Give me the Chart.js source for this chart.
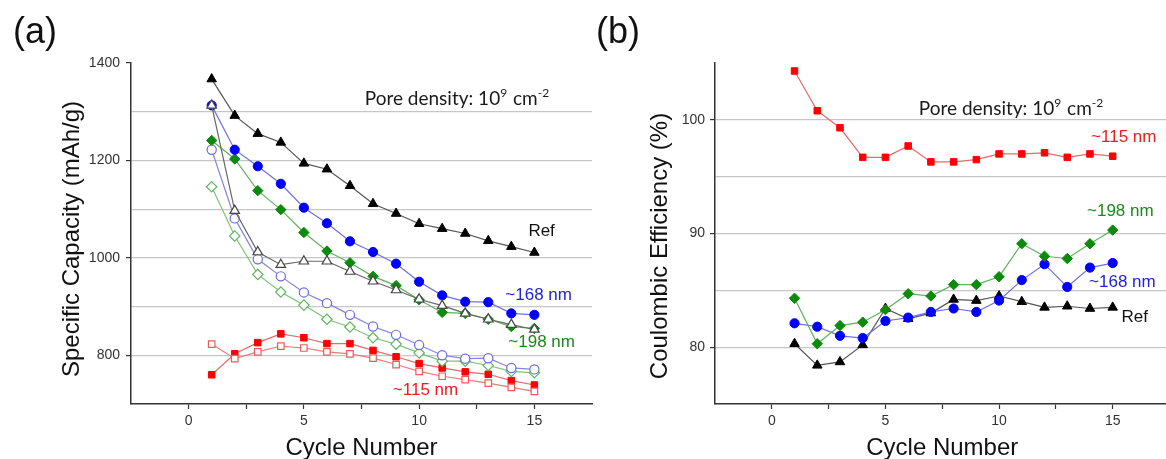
<!DOCTYPE html>
<html><head><meta charset="utf-8">
<script src="https://cdn.jsdelivr.net/npm/chart.js@4.4.1/dist/chart.umd.min.js"></script>
<style>
html,body{margin:0;padding:0;overflow:hidden;background:#fff;width:1166px;height:459px;}
#c1{position:absolute;left:0;top:0;}
#c2{position:absolute;left:590px;top:0;}
</style></head><body>
<canvas id="c1" width="600" height="459"></canvas>
<canvas id="c2" width="586" height="459"></canvas>
<script>
// ---------- data ----------
const cycles = [1,2,3,4,5,6,7,8,9,10,11,12,13,14,15];

// (a) specific capacity (mAh/g)
const capRef      = [1367,1292,1255,1237,1194,1182,1148,1111,1091,1070,1060,1050,1035,1023,1011];
const capRefOpen  = [1313,1097,1012,986,993,993,972,952,934,915,902,886,874,863,853];
const cap168      = [1313,1222,1188,1152,1103,1071,1034,1012,988,951,923,910,909,886,883];
const cap168Open  = [1222,1081,997,962,929,907,883,859,842,821,800,793,794,774,771];
const cap198      = [1241,1203,1138,1099,1052,1014,990,962,943,914,888,886,874,859,855];
const cap198Open  = [1146,1045,966,930,903,874,858,836,823,805,788,788,779,767,764];
const cap115      = [760,803,826,844,836,824,824,810,797,783,774,766,761,748,739];
const cap115Open  = [823,793,807,819,815,807,803,794,781,767,757,750,743,734,726];

// (b) coulombic efficiency (%)
const ce115 = [104.3,100.8,99.3,96.7,96.7,97.7,96.3,96.3,96.5,97.0,97.0,97.1,96.7,97.0,96.8];
const ce198 = [84.3,80.3,81.9,82.2,83.3,84.7,84.5,85.5,85.5,86.2,89.1,88.0,87.8,89.1,90.3];
const ce168 = [82.1,81.8,81.0,80.8,82.3,82.6,83.1,83.4,83.1,84.1,85.9,87.3,85.3,87.0,87.4];
const ceRef = [80.3,78.4,78.7,80.2,83.4,82.5,83.0,84.2,84.1,84.5,84.0,83.5,83.6,83.4,83.5];

// ticks
const xTickVals   = [0,2.5,5,7.5,10,12.5,15];
const xTickLabels = [0,5,10,15];
const capTickVals   = [700,800,900,1000,1100,1200,1300,1400];
const capTickLabels = [800,1000,1200,1400];
const ceTickVals   = [75,80,85,90,95,100,105];
const ceTickLabels = [80,90,100];

// labels
const capNotes = [
  {text:'Ref',     x:14.74, y:1054, color:'#111111'},
  {text:'~168 nm', x:13.74, y:924,  color:'#2323d8'},
  {text:'~198 nm', x:13.87, y:826,  color:'#1a8a1a'},
  {text:'~115 nm', x:8.86,  y:729,  color:'#ee1c1c'}
];
const ceNotes = [
  {text:'~115 nm', x:14.05, y:98.49, color:'#ee1c1c'},
  {text:'~198 nm', x:13.87, y:91.94, color:'#1a8a1a'},
  {text:'~168 nm', x:13.96, y:85.70, color:'#2323d8'},
  {text:'Ref',     x:15.39, y:82.59, color:'#111111'}
];

// ---------- helpers ----------
const pts = vals => vals.map((v,i)=>({x:cycles[i], y:v}));
function ds(vals, style, fill, stroke, line, open){
  return {
    data: pts(vals), pointStyle: style,
    pointRadius: style==='triangle'?5.5:(style==='rectRot'?5.2:4.6),
    pointBackgroundColor: open ? '#ffffff' : fill,
    pointBorderColor: stroke, pointBorderWidth: open?1.2:1,
    borderColor: line, borderWidth: 1.2, fill:false, tension:0
  };
}
const TICKFONT = {family:'"Liberation Sans", Arial, sans-serif', size:14};
const notesPlugin = {
  id:'notes',
  afterDraw(chart, args, o){
    const ctx = chart.ctx, xs = chart.scales.x, ys = chart.scales.y, ca = chart.chartArea;
    ctx.save();
    ctx.textAlign='left'; ctx.textBaseline='middle';
    ctx.font = '17px "Liberation Sans", Arial, sans-serif';
    for (const n of o.items){
      ctx.fillStyle = n.color;
      ctx.fillText(n.text, xs.getPixelForValue(n.x), ys.getPixelForValue(n.y));
    }
    // pore density with superscripts
    let px = xs.getPixelForValue(o.pore.x), py = ys.getPixelForValue(o.pore.y);
    ctx.textBaseline='alphabetic'; ctx.fillStyle='#1a1a1a';
    const big = '19px Lato, "Open Sans", sans-serif', small = '12px Lato, "Open Sans", sans-serif';
    const parts = [['Pore density: 10',big,0],['9',small,-8],[' cm',big,0],['-2',small,-8]];
    for (const [t,f,dy] of parts){ ctx.font=f; ctx.fillText(t, px, py+dy); px += ctx.measureText(t).width + (dy?1:0); }
    // axis titles
    ctx.fillStyle='#111'; ctx.font='24px "Liberation Sans", Arial, sans-serif';
    ctx.textAlign='center'; ctx.textBaseline='alphabetic';
    ctx.fillText(o.xTitle, (ca.left+ca.right)/2, 455);
    ctx.save(); ctx.translate(o.yTitleX, o.yTitleY); ctx.rotate(-Math.PI/2);
    ctx.textBaseline='middle'; ctx.fillText(o.yTitle, 0, 0); ctx.restore();
    // panel label
    ctx.textAlign='left'; ctx.font='36px "Liberation Sans", Arial, sans-serif';
    ctx.fillText(o.panel, o.panelX, 43);
    ctx.restore();
  }
};
function scalesFor(yMin, yMax, yVals, yLabels, yWidth, yPad){
  return {
    x:{type:'linear', min:-2.5, max:17.5,
      afterBuildTicks: s => { s.ticks = xTickVals.map(v=>({value:v})); },
      afterFit: s => { s.height = 55; },
      grid:{drawOnChartArea:false, drawTicks:true, tickLength:5, tickColor:'#333', tickWidth:1.2},
      border:{display:true, color:'#333', width:1.5},
      ticks:{callback:v => xTickLabels.includes(v) ? String(v) : '', font:TICKFONT, color:'#333', padding:4, maxRotation:0, autoSkip:false}
    },
    y:{type:'linear', min:yMin, max:yMax,
      afterBuildTicks: s => { s.ticks = yVals.map(v=>({value:v})); },
      afterFit: s => { s.width = yWidth; },
      grid:{
        color: c => (c.tick && c.tick.value>yMin && c.tick.value<yMax) ? '#c6c6c6' : 'rgba(0,0,0,0)',
        tickColor: c => (c.tick && yLabels.includes(c.tick.value)) ? '#333' : 'rgba(0,0,0,0)',
        lineWidth:1.2, tickLength:5, tickWidth:1.2, drawTicks:true
      },
      border:{display:true, color:'#333', width:1.5},
      ticks:{callback:v => yLabels.includes(v) ? String(v) : '', font:TICKFONT, color:'#333', padding:yPad, autoSkip:false}
    }
  };
}

// ---------- chart (a) ----------
new Chart(document.getElementById('c1'), {
  type:'line',
  data:{datasets:[
    ds(capRefOpen,'triangle','#fff','#444','#666',true),
    ds(cap168Open,'circle','#fff','#6b6be0','#8484e4',true),
    ds(cap198Open,'rectRot','#fff','#5fb85f','#7cc47c',true),
    ds(cap115Open,'rect','#fff','#ef5a5a','#ef7a7a',true),
    ds(capRef,'triangle','#000','#000','#555',false),
    ds(cap168,'circle','#0000ff','#0000ff','#6f6fe2',false),
    ds(cap198,'rectRot','#0b8a0b','#0b8a0b','#5cb35c',false),
    ds(cap115,'rect','#ff0000','#ff0000','#e86a6a',false)
  ]},
  options:{
    responsive:false, animation:false, devicePixelRatio:1,
    layout:{padding:{left:0, top:63, right:8, bottom:0}},
    plugins:{legend:{display:false}, tooltip:{enabled:false},
      notes:{items:capNotes, pore:{x:7.64, y:1314}, xTitle:'Cycle Number', yTitle:'Specific Capacity (mAh/g)', yTitleX:72, yTitleY:239, panel:'(a)', panelX:13}},
    scales: scalesFor(700,1400,capTickVals,capTickLabels,131,6)
  },
  plugins:[notesPlugin]
});

// ---------- chart (b) ----------
new Chart(document.getElementById('c2'), {
  type:'line',
  data:{datasets:[
    ds(ce115,'rect','#ff0000','#ff0000','#e86a6a',false),
    ds(ce198,'rectRot','#0b8a0b','#0b8a0b','#5cb35c',false),
    ds(ce168,'circle','#0000ff','#0000ff','#6f6fe2',false),
    ds(ceRef,'triangle','#000','#000','#555',false)
  ]},
  options:{
    responsive:false, animation:false, devicePixelRatio:1,
    layout:{padding:{left:0, top:63, right:1, bottom:0}},
    plugins:{legend:{display:false}, tooltip:{enabled:false},
      notes:{items:ceNotes, pore:{x:6.47, y:100.45}, xTitle:'Cycle Number', yTitle:'Coulombic Efficiency (%)', yTitleX:70, yTitleY:246, panel:'(b)', panelX:6}},
    scales: scalesFor(75,105,ceTickVals,ceTickLabels,125,5)
  },
  plugins:[notesPlugin]
});
</script>
</body></html>
